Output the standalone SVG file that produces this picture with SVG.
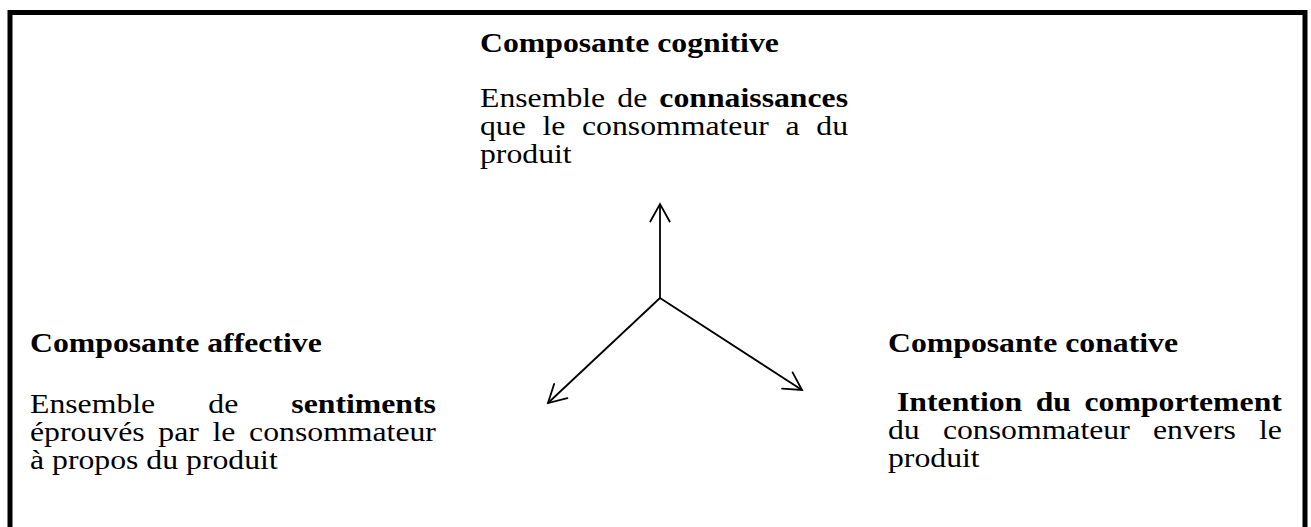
<svg xmlns="http://www.w3.org/2000/svg" width="1311" height="527" viewBox="0 0 1311 527">
<style>
.t{font-family:"Liberation Serif","Times New Roman",serif;font-size:26.5px;fill:#000}
.b{font-weight:bold}
.c{stroke:#000;stroke-width:1.8;fill:none}
</style>
<defs>
<marker id="ah" markerUnits="userSpaceOnUse" viewBox="-24 -14 28 28" markerWidth="28" markerHeight="28" refX="0" refY="0" orient="auto">
<path d="M-17.5,-9.7 L0,0 L-17.5,9.7" stroke="#000" stroke-width="1.8" fill="none" stroke-linecap="round"/>
</marker>
</defs>
<rect x="0" y="0" width="1311" height="527" fill="#fff"/>
<rect id="frame" x="10" y="12.5" width="1295" height="600" fill="none" stroke="#000" stroke-width="5"/>
<g id="connectors">
<line class="c" x1="660" y1="298" x2="660" y2="204" marker-end="url(#ah)"/>
<line class="c" x1="660" y1="298" x2="548" y2="403" marker-end="url(#ah)"/>
<line class="c" x1="660" y1="298" x2="802" y2="390" marker-end="url(#ah)"/>
</g>
<g id="cognitive" transform="translate(480,0) scale(1.198,1)">
<text class="t b" x="0" y="52">Composante cognitive</text>
<text class="t" y="107"><tspan x="0">Ensemble</tspan><tspan x="114.6">de</tspan><tspan class="b" x="149.7">connaissances</tspan></text>
<text class="t" y="135"><tspan x="0">que</tspan><tspan x="52.15">le</tspan><tspan x="85.16">consommateur</tspan><tspan x="255.08">a</tspan><tspan x="280.73">du</tspan></text>
<text class="t" x="0" y="163">produit</text>
</g>
<g id="affective" transform="translate(30,0) scale(1.198,1)">
<text class="t b" x="0" y="352">Composante affective</text>
<text class="t" y="413"><tspan x="0">Ensemble</tspan><tspan x="148.84">de</tspan><tspan class="b" x="218.17">sentiments</tspan></text>
<text class="t" y="441"><tspan x="0">éprouvés</tspan><tspan x="107.09">par</tspan><tspan x="152.33">le</tspan><tspan x="182.88">consommateur</tspan></text>
<text class="t" x="0" y="469">à propos du produit</text>
</g>
<g id="conative" transform="translate(888,0) scale(1.198,1)">
<text class="t b" x="0" y="352">Composante conative</text>
<text class="t b" y="411"><tspan x="7.53">Intention</tspan><tspan x="123.29">du</tspan><tspan x="164">comportement</tspan></text>
<text class="t" y="439"><tspan x="0">du</tspan><tspan x="45.83">consommateur</tspan><tspan x="221.2">envers</tspan><tspan x="309.7" text-anchor="end" dx="19.13">le</tspan></text>
<text class="t" x="0" y="467">produit</text>
</g>
</svg>
